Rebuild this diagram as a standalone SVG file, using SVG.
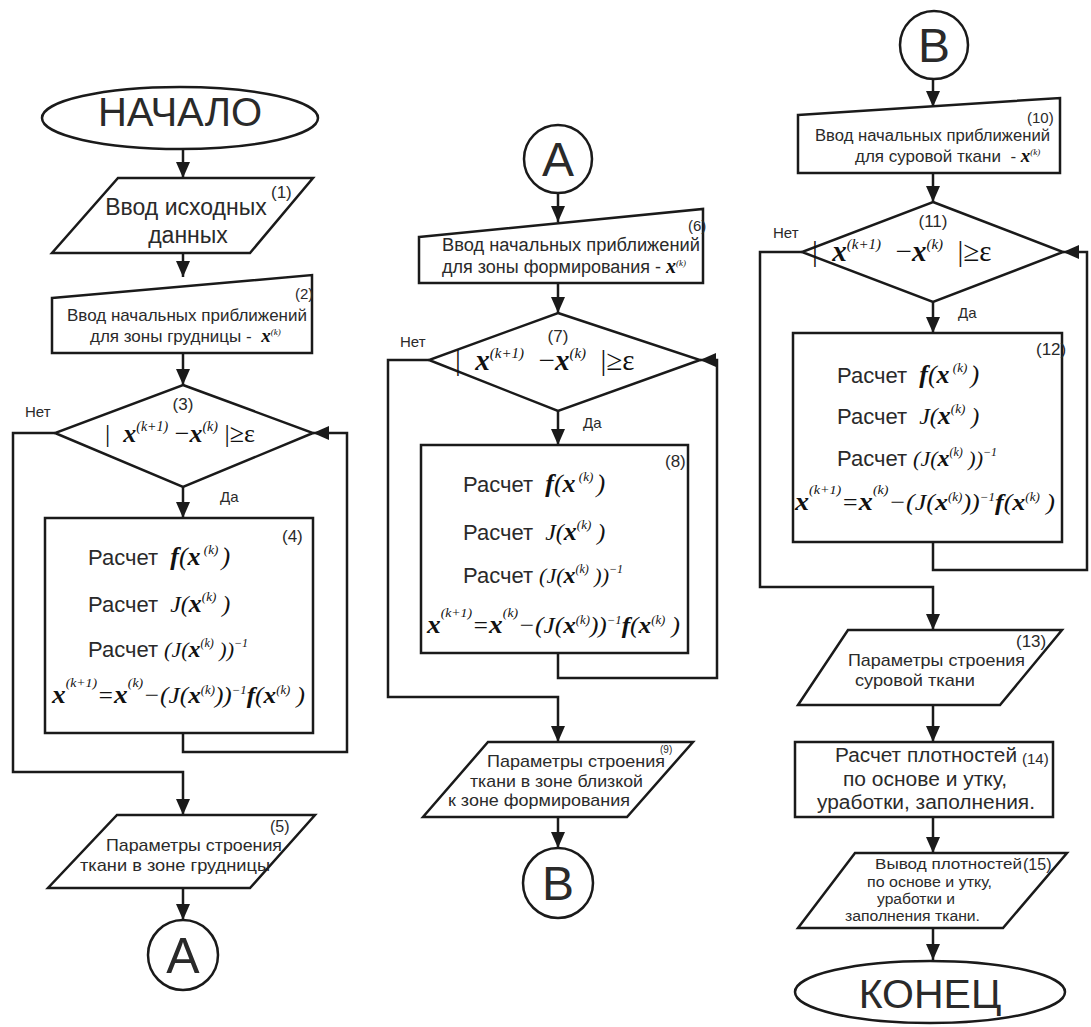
<svg xmlns="http://www.w3.org/2000/svg" width="1091" height="1027" viewBox="0 0 1091 1027">
<defs>
<marker id="ah" markerUnits="userSpaceOnUse" markerWidth="16" markerHeight="16" refX="16" refY="7" orient="auto"><path d="M0,0 L16,7 L0,14 z" fill="#1a1a1a"/></marker>
</defs>
<style>
.s{fill:#fff;stroke:#1a1a1a;stroke-width:2.5}
.c{fill:none;stroke:#1a1a1a;stroke-width:2.5;marker-end:url(#ah)}
.t{font-family:"Liberation Sans",Arial,sans-serif;fill:#2a2a2a;font-style:normal;font-weight:normal}
.m{font-family:"Liberation Serif","Times New Roman",serif;font-style:italic;fill:#111}
.u{font-style:normal;font-weight:normal}
.b{font-weight:bold}
.mid{text-anchor:middle}
</style>
<rect width="1091" height="1027" fill="#fff"/>

<g id="connectors">
<path class="c" d="M183,149 V178"/>
<path class="c" d="M183,253 V277"/>
<path class="c" d="M183,353 V385"/>
<path class="c" d="M183,487 V518"/>
<path class="c" d="M55,433 H13 V772 H183 V815"/>
<path class="c" d="M183,733 V752 H347 V433 H313"/>
<path class="c" d="M183,888 V920"/>
<path class="c" d="M558,193 V222"/>
<path class="c" d="M558,283 V313"/>
<path class="c" d="M558,411 V445"/>
<path class="c" d="M429,360 H388 V697 H558 V742"/>
<path class="c" d="M558,653 V678 H717 V360 H700"/>
<path class="c" d="M558,817 V848"/>
<path class="c" d="M933,79 V107"/>
<path class="c" d="M933,173 V202"/>
<path class="c" d="M933,302 V333"/>
<path class="c" d="M802,252 H760 V587 H933 V630"/>
<path class="c" d="M933,542 V570 H1087 V252 H1063"/>
<path class="c" d="M933,705 V742"/>
<path class="c" d="M933,817 V853"/>
<path class="c" d="M933,928 V960"/>
</g>

<g id="start">
<ellipse class="s" cx="180" cy="118" rx="138" ry="31"/>
<text class="t mid" x="180" y="126" font-size="40">НАЧАЛО</text>
</g>

<g id="n1">
<polygon class="s" points="118,178 313,178 250,253 52,253"/>
<text class="t mid" x="186" y="215" font-size="23">Ввод исходных</text>
<text class="t mid" x="188" y="243" font-size="23">данных</text>
<text class="t" x="271" y="198" font-size="17">(1)</text>
</g>

<g id="n2">
<polygon class="s" points="52,298 312,275 312,353 52,353"/>
<text class="t" x="295" y="299" font-size="15">(2)</text>
<text class="t" x="67" y="321" font-size="17" textLength="240" lengthAdjust="spacingAndGlyphs">Ввод начальных приближений</text>
<text class="t" x="90" y="342" font-size="17">для зоны грудницы -&#160; <tspan class="m b" font-size="19">x</tspan><tspan class="m" font-size="9" dy="-7">(k)</tspan></text>
</g>

<g id="n3">
<polygon class="s" points="183,385 313,433 183,487 55,433"/>
<text class="t mid" x="183" y="410" font-size="17">(3)</text>
<text class="m" x="105" y="442" font-size="26"><tspan class="u">|</tspan>&#160;&#160;<tspan class="b">x</tspan><tspan font-size="14" dy="-11">(k+1)</tspan><tspan class="u" dy="11">&#160;−</tspan><tspan class="b">x</tspan><tspan font-size="14" dy="-11">(k)</tspan><tspan class="u" dy="11">&#160;|≥ε</tspan></text>
<text class="t" x="25" y="417" font-size="15">Нет</text>
<text class="t" x="220" y="502" font-size="15">Да</text>
</g>

<g id="n4">
<rect class="s" x="45" y="518" width="268" height="215"/>
<text class="t" x="282" y="542" font-size="17">(4)</text>
<text class="t" x="88" y="565" font-size="22">Расчет&#160; <tspan class="m b" font-size="26">f</tspan><tspan class="m" font-size="26">(</tspan><tspan class="m b" font-size="26">x</tspan><tspan class="m" font-size="13" dy="-11">&#160;(k)&#160;</tspan><tspan class="m" font-size="26" dy="11">)</tspan></text>
<text class="t" x="88" y="612" font-size="22">Расчет&#160; <tspan class="m" font-size="24">J(</tspan><tspan class="m b" font-size="26">x</tspan><tspan class="m" font-size="13" dy="-11">(k)</tspan><tspan class="m" font-size="24" dy="11">&#160;)</tspan></text>
<text class="t" x="88" y="657" font-size="22">Расчет <tspan class="m" font-size="22">(J(</tspan><tspan class="m b" font-size="24">x</tspan><tspan class="m" font-size="12" dy="-10">(k)</tspan><tspan class="m" font-size="22" dy="10">&#160;))</tspan><tspan class="m" font-size="12" dy="-10">−1</tspan></text>
<text class="m" x="52" y="703" font-size="24" textLength="253" lengthAdjust="spacingAndGlyphs"><tspan class="b" font-size="26">x</tspan><tspan font-size="13" dy="-16">(k+1)</tspan><tspan dy="16">=</tspan><tspan class="b" font-size="26">x</tspan><tspan font-size="13" dy="-16">(k)</tspan><tspan dy="16">−(J(</tspan><tspan class="b">x</tspan><tspan font-size="12" dy="-9">(k)</tspan><tspan dy="9">))</tspan><tspan font-size="12" dy="-9">−1</tspan><tspan class="b" dy="9">f</tspan><tspan>(</tspan><tspan class="b">x</tspan><tspan font-size="12" dy="-9">(k)</tspan><tspan dy="9">&#160;)</tspan></text>
</g>

<g id="n5">
<polygon class="s" points="117,815 315,815 250,888 48,888"/>
<text class="t" x="270" y="832" font-size="16">(5)</text>
<text class="t" x="106" y="851" font-size="17" textLength="176" lengthAdjust="spacingAndGlyphs">Параметры строения</text>
<text class="t" x="80" y="871" font-size="17" textLength="190" lengthAdjust="spacingAndGlyphs">ткани в зоне грудницы</text>
</g>

<g id="connA1">
<circle class="s" cx="183" cy="955" r="35"/>
<text class="t mid" x="183" y="973" font-size="50">A</text>
</g>

<g id="connA2">
<circle class="s" cx="558" cy="159" r="34"/>
<text class="t mid" x="558" y="176" font-size="48">A</text>
</g>

<g id="n6">
<polygon class="s" points="419,237 703,209 703,283 419,283"/>
<text class="t" x="688" y="231" font-size="15">(6)</text>
<text class="t" x="442" y="251" font-size="18" textLength="258" lengthAdjust="spacingAndGlyphs">Ввод начальных приближений</text>
<text class="t" x="442" y="273" font-size="18">для зоны формирования - <tspan class="m b" font-size="20">x</tspan><tspan class="m" font-size="9" dy="-7">(k)</tspan></text>
</g>

<g id="n7">
<polygon class="s" points="558,313 700,360 558,411 429,360"/>
<text class="t mid" x="558" y="342" font-size="17">(7)</text>
<text class="m" x="455" y="370" font-size="29"><tspan class="u">|</tspan>&#160;&#160;<tspan class="b">x</tspan><tspan font-size="15" dy="-12">(k+1)</tspan><tspan class="u" dy="12">&#160;&#160;−</tspan><tspan class="b">x</tspan><tspan font-size="15" dy="-12">(k)</tspan><tspan class="u" dy="12">&#160;&#160;|≥ε</tspan></text>
<text class="t" x="400" y="347" font-size="15">Нет</text>
<text class="t" x="583" y="428" font-size="15">Да</text>
</g>

<g id="n8">
<rect class="s" x="421" y="445" width="267" height="208"/>
<text class="t" x="665" y="467" font-size="17">(8)</text>
<text class="t" x="463" y="492" font-size="22">Расчет&#160; <tspan class="m b" font-size="26">f</tspan><tspan class="m" font-size="26">(</tspan><tspan class="m b" font-size="26">x</tspan><tspan class="m" font-size="13" dy="-11">&#160;(k)&#160;</tspan><tspan class="m" font-size="26" dy="11">)</tspan></text>
<text class="t" x="463" y="540" font-size="22">Расчет&#160; <tspan class="m" font-size="24">J(</tspan><tspan class="m b" font-size="26">x</tspan><tspan class="m" font-size="13" dy="-11">(k)</tspan><tspan class="m" font-size="24" dy="11">&#160;)</tspan></text>
<text class="t" x="463" y="583" font-size="22">Расчет <tspan class="m" font-size="22">(J(</tspan><tspan class="m b" font-size="24">x</tspan><tspan class="m" font-size="12" dy="-10">(k)</tspan><tspan class="m" font-size="22" dy="10">&#160;))</tspan><tspan class="m" font-size="12" dy="-10">−1</tspan></text>
<text class="m" x="427" y="633" font-size="24" textLength="253" lengthAdjust="spacingAndGlyphs"><tspan class="b" font-size="26">x</tspan><tspan font-size="13" dy="-16">(k+1)</tspan><tspan dy="16">=</tspan><tspan class="b" font-size="26">x</tspan><tspan font-size="13" dy="-16">(k)</tspan><tspan dy="16">−(J(</tspan><tspan class="b">x</tspan><tspan font-size="12" dy="-9">(k)</tspan><tspan dy="9">))</tspan><tspan font-size="12" dy="-9">−1</tspan><tspan class="b" dy="9">f</tspan><tspan>(</tspan><tspan class="b">x</tspan><tspan font-size="12" dy="-9">(k)</tspan><tspan dy="9">&#160;)</tspan></text>
</g>

<g id="n9">
<polygon class="s" points="488,742 693,742 627,817 423,817"/>
<text class="t" x="660" y="753" font-size="10">(9)</text>
<text class="t" x="487" y="767" font-size="17" textLength="178" lengthAdjust="spacingAndGlyphs">Параметры строения</text>
<text class="t" x="470" y="787" font-size="17" textLength="173" lengthAdjust="spacingAndGlyphs">ткани в зоне близкой</text>
<text class="t" x="448" y="806" font-size="17" textLength="182" lengthAdjust="spacingAndGlyphs">к зоне формирования</text>
</g>

<g id="connB1">
<circle class="s" cx="558" cy="883" r="35"/>
<text class="t mid" x="558" y="900" font-size="48">B</text>
</g>

<g id="connB2">
<circle class="s" cx="934" cy="45" r="34"/>
<text class="t mid" x="934" y="62" font-size="48">B</text>
</g>

<g id="n10">
<polygon class="s" points="798,115 1060,98 1060,173 798,173"/>
<text class="t" x="1027" y="123" font-size="15">(10)</text>
<text class="t" x="815" y="141" font-size="16" textLength="235" lengthAdjust="spacingAndGlyphs">Ввод начальных приближений</text>
<text class="t" x="855" y="162" font-size="17">для суровой ткани&#160; - <tspan class="m b" font-size="19">x</tspan><tspan class="m" font-size="9" dy="-7">(k)</tspan></text>
</g>

<g id="n11">
<polygon class="s" points="933,202 1063,252 933,302 802,252"/>
<text class="t mid" x="933" y="227" font-size="17">(11)</text>
<text class="m" x="812" y="261" font-size="29"><tspan class="u">|</tspan>&#160;&#160;<tspan class="b">x</tspan><tspan font-size="15" dy="-12">(k+1)</tspan><tspan class="u" dy="12">&#160;&#160;−</tspan><tspan class="b">x</tspan><tspan font-size="15" dy="-12">(k)</tspan><tspan class="u" dy="12">&#160;&#160;|≥ε</tspan></text>
<text class="t" x="773" y="238" font-size="15">Нет</text>
<text class="t" x="958" y="318" font-size="15">Да</text>
</g>

<g id="n12">
<rect class="s" x="793" y="333" width="269" height="209"/>
<text class="t" x="1036" y="355" font-size="17">(12)</text>
<text class="t" x="837" y="383" font-size="22">Расчет&#160; <tspan class="m b" font-size="26">f</tspan><tspan class="m" font-size="26">(</tspan><tspan class="m b" font-size="26">x</tspan><tspan class="m" font-size="13" dy="-11">&#160;(k)&#160;</tspan><tspan class="m" font-size="26" dy="11">)</tspan></text>
<text class="t" x="837" y="424" font-size="22">Расчет&#160; <tspan class="m" font-size="24">J(</tspan><tspan class="m b" font-size="26">x</tspan><tspan class="m" font-size="13" dy="-11">(k)</tspan><tspan class="m" font-size="24" dy="11">&#160;)</tspan></text>
<text class="t" x="837" y="466" font-size="22">Расчет <tspan class="m" font-size="22">(J(</tspan><tspan class="m b" font-size="24">x</tspan><tspan class="m" font-size="12" dy="-10">(k)</tspan><tspan class="m" font-size="22" dy="10">&#160;))</tspan><tspan class="m" font-size="12" dy="-10">−1</tspan></text>
<text class="m" x="795" y="510" font-size="24" textLength="260" lengthAdjust="spacingAndGlyphs"><tspan class="b" font-size="26">x</tspan><tspan font-size="13" dy="-16">(k+1)</tspan><tspan dy="16">=</tspan><tspan class="b" font-size="26">x</tspan><tspan font-size="13" dy="-16">(k)</tspan><tspan dy="16">−(J(</tspan><tspan class="b">x</tspan><tspan font-size="12" dy="-9">(k)</tspan><tspan dy="9">))</tspan><tspan font-size="12" dy="-9">−1</tspan><tspan class="b" dy="9">f</tspan><tspan>(</tspan><tspan class="b">x</tspan><tspan font-size="12" dy="-9">(k)</tspan><tspan dy="9">&#160;)</tspan></text>
</g>

<g id="n13">
<polygon class="s" points="848,630 1062,630 1000,705 798,705"/>
<text class="t" x="1016" y="647" font-size="17">(13)</text>
<text class="t" x="848" y="666" font-size="17" textLength="177" lengthAdjust="spacingAndGlyphs">Параметры строения</text>
<text class="t" x="855" y="686" font-size="17" textLength="120" lengthAdjust="spacingAndGlyphs">суровой ткани</text>
</g>

<g id="n14">
<rect class="s" x="795" y="742" width="258" height="75"/>
<text class="t" x="835" y="762" font-size="20" textLength="182" lengthAdjust="spacingAndGlyphs">Расчет плотностей</text>
<text class="t" x="1022" y="764" font-size="15">(14)</text>
<text class="t" x="843" y="786" font-size="20" textLength="164" lengthAdjust="spacingAndGlyphs">по основе и утку,</text>
<text class="t" x="817" y="809" font-size="20" textLength="218" lengthAdjust="spacingAndGlyphs">уработки, заполнения.</text>
</g>

<g id="n15">
<polygon class="s" points="855,853 1067,853 1003,928 798,928"/>
<text class="t" x="875" y="869" font-size="14" textLength="147" lengthAdjust="spacingAndGlyphs">Вывод плотностей</text>
<text class="t" x="1023" y="870" font-size="16">(15)</text>
<text class="t" x="867" y="887" font-size="14" textLength="125" lengthAdjust="spacingAndGlyphs">по основе и утку,</text>
<text class="t" x="877" y="904" font-size="14" textLength="78" lengthAdjust="spacingAndGlyphs">уработки и</text>
<text class="t" x="845" y="921" font-size="14" textLength="135" lengthAdjust="spacingAndGlyphs">заполнения ткани.</text>
</g>

<g id="end">
<ellipse class="s" cx="930" cy="992" rx="135" ry="31"/>
<text class="t mid" x="930" y="1008" font-size="41">КОНЕЦ</text>
</g>
</svg>
